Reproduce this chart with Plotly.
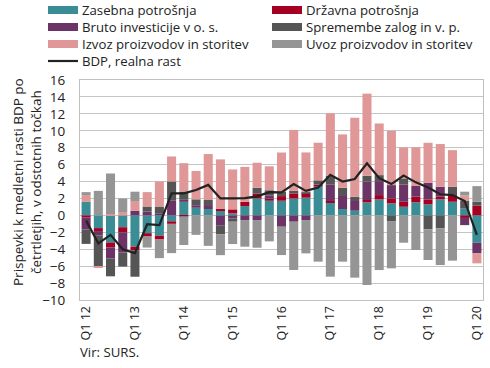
import plotly.graph_objects as go

quarters = ["Q1 12","Q2 12","Q3 12","Q4 12","Q1 13","Q2 13","Q3 13","Q4 13",
            "Q1 14","Q2 14","Q3 14","Q4 14","Q1 15","Q2 15","Q3 15","Q4 15",
            "Q1 16","Q2 16","Q3 16","Q4 16","Q1 17","Q2 17","Q3 17","Q4 17",
            "Q1 18","Q2 18","Q3 18","Q4 18","Q1 19","Q2 19","Q3 19","Q4 19","Q1 20"]

zasebna = [1.6, -1.5, -3.2, -1.4, -3.7, -2.1, -2.4, -0.7,
           1.6, 0.9, 0.75, 0.55, 0.24, 1.1, 2.0, 1.73,
           1.73, 2.0, 2.09, 3.39, 1.54, 0.75, 0.55, 1.54,
           1.89, 1.42, 1.02, 1.54, 1.3, 1.89, 1.61, 0.8, -3.23]
drzavna = [-0.27, -0.35, -0.6, -0.6, -0.45, -0.4, -0.45, -0.3,
           -0.1, 0.0, 0.0, 0.2, 0.47, 0.5, 0.6, 0.24,
           0.55, 0.6, 0.5, 0.25, 0.16, 0.0, 0.0, 0.28,
           0.51, 0.59, 0.59, 0.67, 0.59, 0.31, 0.79, -0.3, 1.14]
bruto = [-1.4, -0.5, -1.3, -2.4, 0.55, 0.45, 0.25, 1.73,
         0.24, 0.3, 0.47, -1.22, -0.35, -0.55, -0.55, 0.4,
         -1.34, -0.75, -0.55, 0.0, 1.97, 1.65, 1.26, 2.17,
         1.65, 1.57, 2.05, 1.26, 1.97, 1.18, 0.0, -0.85, -1.26]
zaloge = [-1.7, -3.7, -2.1, -1.65, -3.1, 0.6, 0.8, 2.28,
          0.98, 0.7, 0.6, -1.0, -0.4, 0.0, 0.67, 0.6,
          0.5, 0.3, 0.15, 0.5, 1.02, 0.87, 0.4, 0.7,
          0.71, -0.67, 0.71, 0.0, -1.65, -1.54, 0.98, 0.9, 0.47]
izvoz = [0.8, -0.15, 0.15, 0.4, 1.15, 1.7, 2.95, 2.95,
         3.35, 3.35, 5.43, 5.87, 4.72, 4.13, 2.95, 2.83,
         4.65, 7.2, 4.7, 4.45, 7.36, 6.3, 9.33, 9.7,
         6.1, 6.42, 3.66, 4.57, 4.72, 5.05, 4.33, 0.65, -1.18]
uvoz = [0.35, 2.9, 4.8, 1.6, 1.1, -1.3, -2.2, -3.46,
        -3.4, -2.3, -3.6, -2.48, -2.64, -3.15, -3.27, -3.07,
        -3.35, -5.7, -3.94, -5.47, -7.24, -5.47, -7.36, -8.23,
        -6.46, -5.59, -3.23, -4.09, -3.62, -4.33, -5.35, 0.45, 1.85]
bdp = [-0.6, -3.3, -2.3, -4.0, -4.45, -1.05, -1.15, 2.6,
       2.6, 3.0, 3.6, 2.0, 2.0, 2.05, 2.25, 2.75,
       2.72, 3.7, 2.9, 3.3, 4.8, 4.0, 4.3, 6.15,
       4.4, 3.7, 4.7, 3.9, 3.3, 2.5, 2.4, 1.7, -2.3]

series_names = ["Zasebna potrošnja", "Državna potrošnja", "Bruto investicije v o. s.",
                "Spremembe zalog in v. p.", "Izvoz proizvodov in storitev",
                "Uvoz proizvodov in storitev"]
series_values = [zasebna, drzavna, bruto, zaloge, izvoz, uvoz]
series_colors = ["#3A8D95", "#A50021", "#6C3466", "#555555", "#DF9797", "#959595"]
line_name = "BDP, realna rast"
line_color = "#222222"

W, H = 490, 368
ML, MR, MT, MB = 80, 7, 80, 68
PW, PH = W - ML - MR, H - MT - MB

def px_x(px):
    return (px - ML) / PW

def px_y(py):
    return (H - MB - py) / PH

x = list(range(len(quarters)))
tickvals = [i for i, q in enumerate(quarters) if q.startswith("Q1")]
ticktext = [quarters[i] for i in tickvals]

font_family = "Open Sans, sans-serif"
text_color = "#222222"

fig = go.Figure()
for name, vals, col in zip(series_names, series_values, series_colors):
    fig.add_trace(go.Bar(x=x, y=vals, name=name, marker_color=col,
                         marker_line_width=0, showlegend=False))
fig.add_trace(go.Scatter(x=x, y=bdp, mode="lines", name=line_name,
                         line=dict(color=line_color, width=2.2), showlegend=False))

# legend drawn in two columns
row_y = [10, 27, 44, 61]
col_x = [48, 272]
entries = list(zip(series_names, series_colors)) + [(line_name, None)]
for k, (name, col) in enumerate(entries):
    cx = col_x[k % 2]
    ry = row_y[k // 2]
    if col is not None:
        fig.add_shape(type="rect", xref="paper", yref="paper",
                      x0=px_x(cx), x1=px_x(cx + 30), y0=px_y(ry + 4), y1=px_y(ry - 4),
                      fillcolor=col, line_width=0)
    else:
        fig.add_shape(type="line", xref="paper", yref="paper",
                      x0=px_x(cx), x1=px_x(cx + 30), y0=px_y(ry), y1=px_y(ry),
                      line=dict(color=line_color, width=2.2))
    fig.add_annotation(text=name, xref="paper", yref="paper",
                       x=px_x(cx + 33), y=px_y(ry), xanchor="left", yanchor="middle",
                       showarrow=False, borderpad=0,
                       font=dict(size=13.2, family=font_family, color=text_color))

fig.update_layout(
    width=W, height=H,
    margin=dict(l=ML, r=MR, t=MT, b=MB, autoexpand=False),
    plot_bgcolor="white", paper_bgcolor="white",
    barmode="relative", bargap=0.26, showlegend=False,
    font=dict(family=font_family, size=13, color=text_color),
    xaxis=dict(range=[-0.5, 32.5], tickmode="array", tickvals=tickvals,
               ticktext=ticktext, tickangle=-90, showgrid=False,
               showline=True, linecolor="#C0C0C0", linewidth=1, mirror=True,
               ticks="", tickfont=dict(size=12.5), zeroline=False),
    yaxis=dict(range=[-10, 16], dtick=2, showgrid=True, gridcolor="#C4C4C4",
               gridwidth=1, showline=True, linecolor="#C0C0C0", linewidth=1,
               mirror=True, zeroline=False, ticks="", tickfont=dict(size=13.5),
               ticklabelstandoff=11),
)
fig.add_annotation(text="Prispevki k medletni rasti BDP po<br>četrtletjih, v odstotnih točkah",
                   xref="paper", yref="paper", x=px_x(27), y=px_y(182), textangle=-90,
                   xanchor="center", yanchor="middle", showarrow=False, borderpad=0,
                   font=dict(size=13.5, family=font_family, color=text_color))
fig.add_annotation(text="Vir: SURS.", xref="paper", yref="paper", x=px_x(79), y=px_y(352),
                   xanchor="left", yanchor="middle", showarrow=False, borderpad=0,
                   font=dict(size=13.2, family=font_family, color=text_color))
fig.write_html("out.html", config={"displayModeBar": False},
               post_script="document.body.style.margin='0';document.body.style.padding='0';")
